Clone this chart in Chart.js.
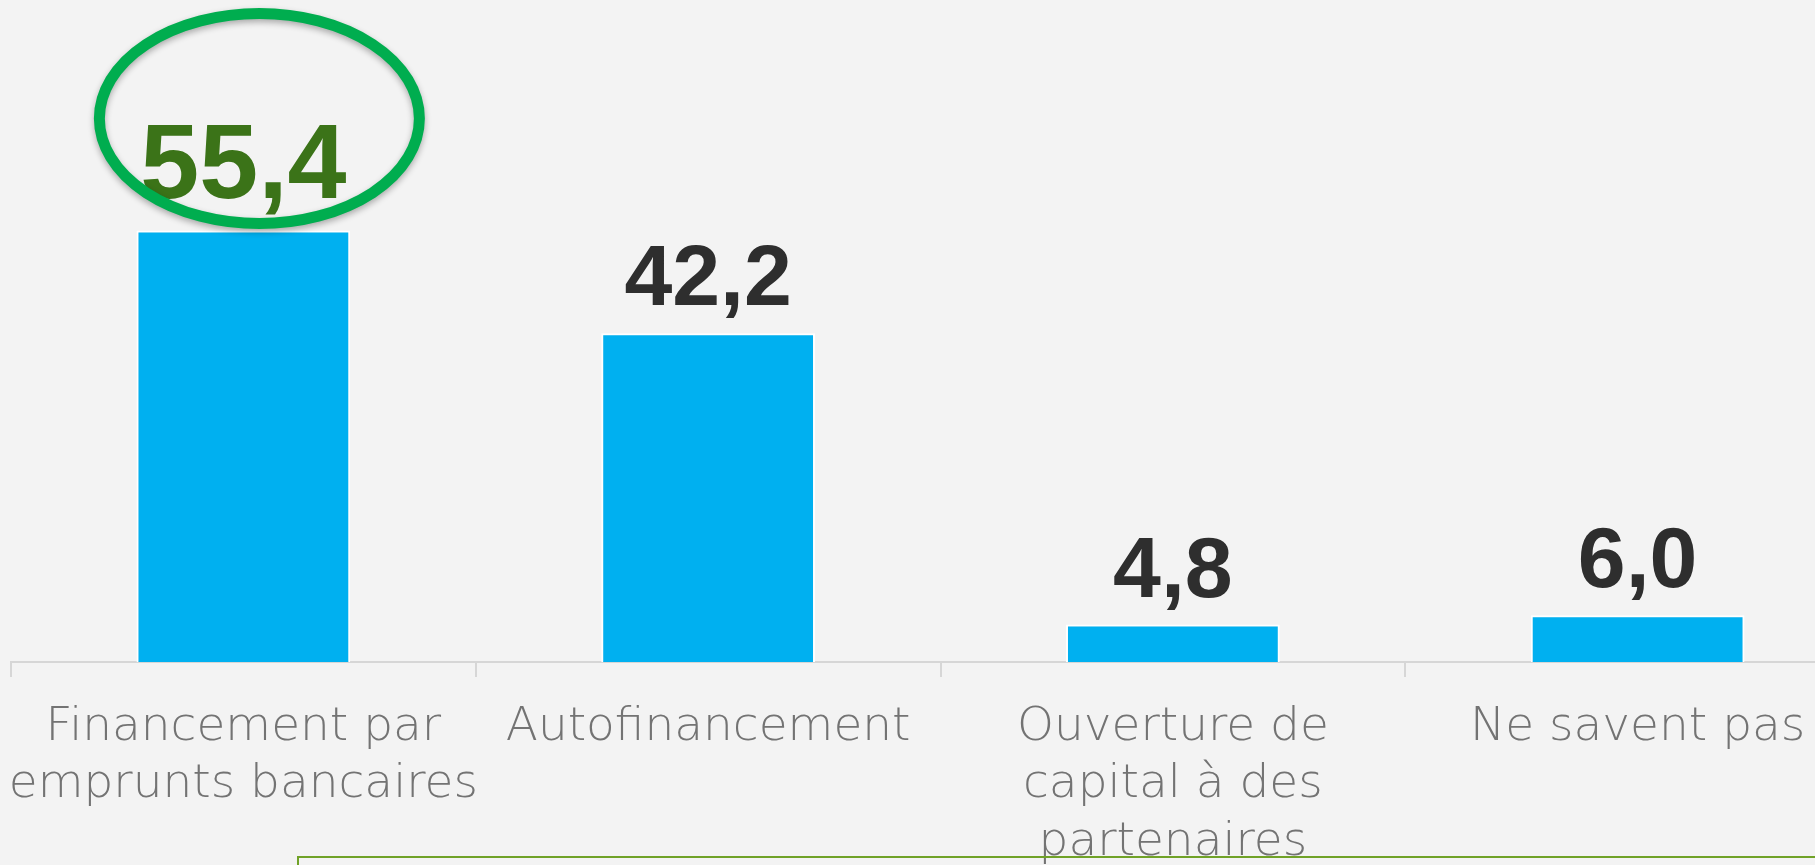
<!DOCTYPE html>
<html>
<head>
<meta charset="utf-8">
<script src="https://cdn.jsdelivr.net/npm/chart.js@4"></script>
<style>
  html, body { margin: 0; padding: 0; background: #f3f3f3; overflow: hidden; }
  #wrap { position: absolute; left: 0; top: 0; width: 1872px; height: 865px; }
  #note-box { position: absolute; left: 297px; top: 856px; width: 1600px; height: 100px;
              border: 2px solid #70a227; box-sizing: border-box; }
</style>
</head>
<body>
<div id="wrap"><canvas id="chart"></canvas></div>
<div id="note-box"></div>
<script>
// Modes de financement envisagés (%)
const categories = [
  ["Financement par", "emprunts bancaires"],
  "Autofinancement",
  ["Ouverture de", "capital à des", "partenaires"],
  "Ne savent pas"
];
const values = [55.4, 42.2, 4.8, 6.0];
const highlightIndex = 0;

const barColor = "#00b0f0";
const labelColor = "#2e2e2e";
const highlightColor = "#3b7318";
const ellipseColor = "#00ad4f";

function formatValue(v) {
  return v.toFixed(1).replace(".", ",");
}

// draws the values above the bars, and the ring around the highlighted one
const valueLabels = {
  id: "valueLabels",
  afterDatasetsDraw(chart) {
    const ctx = chart.ctx;
    const meta = chart.getDatasetMeta(0);
    meta.data.forEach((bar, i) => {
      const big = i === highlightIndex;
      ctx.save();
      ctx.font = (big ? "bold 106px" : "bold 86px") + " 'Liberation Sans', Arial, sans-serif";
      ctx.fillStyle = big ? highlightColor : labelColor;
      ctx.textAlign = "center";
      ctx.textBaseline = "alphabetic";
      ctx.fillText(formatValue(values[i]), bar.x, bar.y - (big ? 33 : 28));
      ctx.restore();

      if (big) {
        ctx.save();
        ctx.shadowColor = "rgba(0,0,0,0.3)";
        ctx.shadowBlur = 6;
        ctx.shadowOffsetY = 3;
        ctx.strokeStyle = ellipseColor;
        ctx.lineWidth = 11;
        ctx.beginPath();
        ctx.ellipse(bar.x + 16, bar.y - 112, 160, 105, 0, 0, Math.PI * 2);
        ctx.stroke();
        ctx.restore();
      }
    });
  }
};

new Chart(document.getElementById("chart"), {
  type: "bar",
  data: {
    labels: categories,
    datasets: [{
      data: values,
      backgroundColor: barColor,
      borderColor: "#ffffff",
      borderWidth: 2,
      borderSkipped: "bottom",
      categoryPercentage: 1,
      barPercentage: 0.46
    }]
  },
  options: {
    responsive: true,
    maintainAspectRatio: false,
    animation: false,
    layout: { padding: { left: 11, right: 2, top: 0, bottom: 0 } },
    plugins: {
      legend: { display: false },
      tooltip: { enabled: false }
    },
    scales: {
      y: {
        display: false,
        min: 0,
        max: 85
      },
      x: {
        grid: {
          offset: true,
          drawOnChartArea: false,
          color: "#d6d6d6",
          lineWidth: 2,
          tickLength: 15
        },
        border: { color: "#d6d6d6", width: 2 },
        ticks: {
          color: "#737373",
          padding: 22,
          maxRotation: 0,
          autoSkip: false,
          font: { family: "'DejaVu Sans', sans-serif", size: 47, weight: 300, lineHeight: 1.22 }
        },
        afterFit(scale) {
          scale.height = 203;
          scale.paddingLeft = 0;
          scale.paddingRight = 0;
        }
      }
    }
  },
  plugins: [valueLabels]
});
</script>
</body>
</html>
